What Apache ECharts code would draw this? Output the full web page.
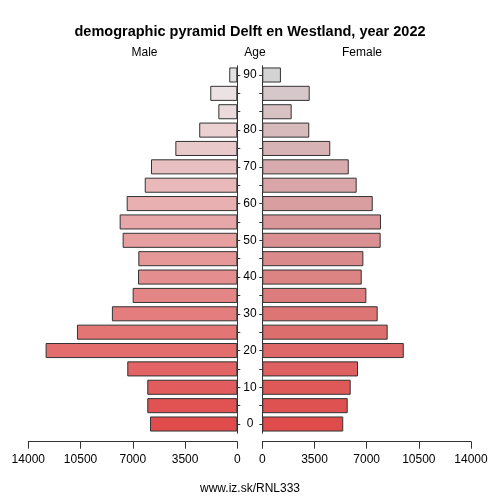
<!DOCTYPE html>
<html>
<head>
<meta charset="utf-8">
<script src="https://cdn.jsdelivr.net/npm/echarts@6/dist/echarts.min.js"></script>
<style>html,body{margin:0;padding:0;background:#fff}#c{width:500px;height:500px}</style>
</head>
<body>
<div id="c"></div>
<script>
// Age groups (bottom to top)
var ageGroups = ['0','5','10','15','20','25','30','35','40','45','50','55','60','65','70','75','80','85','90','95'];
// Tick labels shown on the age axis
var ageTickLabels = ['0','','10','','20','','30','','40','','50','','60','','70','','80','','','90'];
var maleValues = [5850, 6030, 6030, 7370, 12840, 10740, 8400, 7010, 6650, 6630, 7680, 7880, 7410, 6200, 5780, 4150, 2550, 1270, 1810, 540];
var femaleValues = [5430, 5730, 5930, 6420, 9490, 8410, 7740, 6980, 6670, 6780, 7940, 7960, 7410, 6330, 5800, 4560, 3150, 1970, 3180, 1250];
var xTicks = [0, 3500, 7000, 10500, 14000];

function mix(a, b, t) {
  var r = Math.round(a[0] + (b[0] - a[0]) * t);
  var g = Math.round(a[1] + (b[1] - a[1]) * t);
  var bl = Math.round(a[2] + (b[2] - a[2]) * t);
  return 'rgb(' + r + ',' + g + ',' + bl + ')';
}
var n = ageGroups.length;
function colorsFor(start, end, top) {
  return ageGroups.map(function (_, i) {
    return i === n - 1 ? top : mix(start, end, i / (n - 2));
  });
}
var maleColors = colorsFor([224, 75, 75], [236, 226, 227], '#e3e3e3');
var femaleColors = colorsFor([224, 75, 75], [214, 200, 202], '#d3d3d3');

var font = 'Liberation Sans, Arial, sans-serif';
var chart = echarts.init(document.getElementById('c'), null, {renderer: 'canvas'});

function xAxisCfg(idx, inverse) {
  return {
    type: 'value', gridIndex: idx, inverse: inverse,
    min: xTicks[0], max: xTicks[xTicks.length - 1], interval: xTicks[1] - xTicks[0],
    offset: 8.5,
    splitLine: {show: false},
    axisLine: {show: true, lineStyle: {color: '#333', width: 1}},
    axisTick: {show: true, length: 7, lineStyle: {color: '#333'}},
    axisLabel: {color: '#000', fontSize: 12, fontFamily: font, margin: 12,
      formatter: function (v) { return String(v); }}
  };
}

chart.setOption({
  animation: false,
  backgroundColor: '#fff',
  title: [
    {text: 'demographic pyramid Delft en Westland, year 2022', left: 'center', top: 19,
     textStyle: {fontSize: 14.5, fontWeight: 'bold', fontFamily: font, color: '#000'}},
    {text: 'Male', left: 139.5, textAlign: 'center', top: 42,
     textStyle: {fontSize: 12, fontWeight: 'normal', fontFamily: font, color: '#000'}},
    {text: 'Age', left: 250, textAlign: 'center', top: 42,
     textStyle: {fontSize: 12, fontWeight: 'normal', fontFamily: font, color: '#000'}},
    {text: 'Female', left: 357, textAlign: 'center', top: 42,
     textStyle: {fontSize: 12, fontWeight: 'normal', fontFamily: font, color: '#000'}},
    {text: 'www.iz.sk/RNL333', left: 'center', top: 478,
     textStyle: {fontSize: 12, fontWeight: 'normal', fontFamily: font, color: '#000'}}
  ],
  grid: [
    {left: 28.3, right: 262.7, top: 65.8, bottom: 66.8},
    {left: 262.3, right: 29, top: 65.8, bottom: 66.8}
  ],
  xAxis: [xAxisCfg(0, true), xAxisCfg(1, false)],
  yAxis: [
    {
      type: 'category', gridIndex: 0, data: ageGroups, position: 'right',
      axisLine: {show: true, lineStyle: {color: '#333'}},
      axisTick: {show: true, length: 3, alignWithLabel: true, interval: 0, lineStyle: {color: '#333'}},
      axisLabel: {show: true, interval: 0, align: 'center', margin: 12.7, color: '#000', fontSize: 12, fontFamily: font,
        formatter: function (v, i) { return ageTickLabels[i]; }}
    },
    {
      type: 'category', gridIndex: 1, data: ageGroups, position: 'left',
      axisLine: {show: true, lineStyle: {color: '#333'}},
      axisTick: {show: true, length: 3, alignWithLabel: true, interval: 0, lineStyle: {color: '#333'}},
      axisLabel: {show: false}
    }
  ],
  series: [
    {
      type: 'bar', xAxisIndex: 0, yAxisIndex: 0, barWidth: '82%',
      data: maleValues.map(function (v, i) {
        return {value: v, itemStyle: {color: maleColors[i]}};
      }),
      itemStyle: {borderColor: '#333', borderWidth: 1}
    },
    {
      type: 'bar', xAxisIndex: 1, yAxisIndex: 1, barWidth: '82%',
      data: femaleValues.map(function (v, i) {
        return {value: v, itemStyle: {color: femaleColors[i]}};
      }),
      itemStyle: {borderColor: '#333', borderWidth: 1}
    }
  ]
});
</script>
</body>
</html>
